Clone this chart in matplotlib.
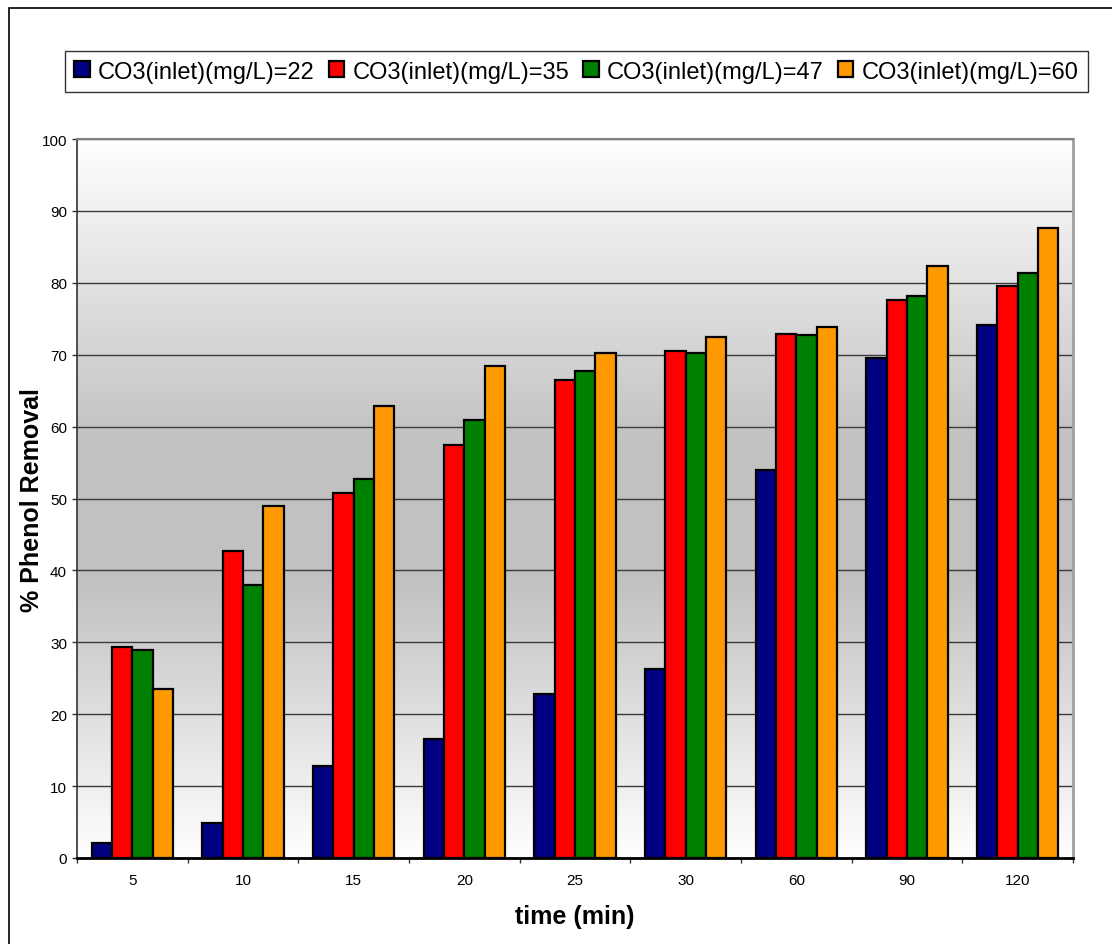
import numpy as np
import matplotlib
matplotlib.use("Agg")
import matplotlib.pyplot as plt
from matplotlib.patches import Rectangle

plt.rcParams['font.family'] = ['Liberation Sans', 'DejaVu Sans']

# Contact time categories (min)
times = ["5", "10", "15", "20", "25", "30", "60", "90", "120"]

# % phenol removal for each inlet carbonate concentration
series_labels = [
    "CO3(inlet)(mg/L)=22",
    "CO3(inlet)(mg/L)=35",
    "CO3(inlet)(mg/L)=47",
    "CO3(inlet)(mg/L)=60",
]
removal_22 = [2.1, 4.9, 12.8, 16.5, 22.8, 26.3, 54.0, 69.5, 74.1]
removal_35 = [29.4, 42.7, 50.8, 57.5, 66.5, 70.5, 72.9, 77.6, 79.5]
removal_47 = [28.9, 37.9, 52.7, 60.9, 67.8, 70.3, 72.7, 78.1, 81.3]
removal_60 = [23.5, 48.9, 62.9, 68.4, 70.3, 72.4, 73.8, 82.4, 87.6]

series_values = [removal_22, removal_35, removal_47, removal_60]
series_colors = ["#000080", "#FF0000", "#008000", "#FF9900"]

y_ticks = list(range(0, 101, 10))

W, H = 1112, 945
fig = plt.figure(figsize=(W / 100, H / 100), dpi=100)
fig.patch.set_facecolor("white")

# outer chart border (left and top edges visible)
fig.add_artist(Rectangle((9 / W, -0.5), 2.0, 1 - 9 / H + 0.5,
                         transform=fig.transFigure, fill=False,
                         edgecolor="black", linewidth=1.2))

ax = fig.add_axes([77 / W, 1 - 859 / H, (1073 - 77) / W, (859 - 140) / H])

n = len(times)
x = np.arange(n)

# plot-area background: white at top and bottom, grey band in the middle
yy = np.linspace(0, 100, 400)
shade = np.interp(yy, [0, 38, 58, 100], [1.0, 0.76, 0.76, 1.0])
grad = np.dstack([shade, shade, shade]).reshape(-1, 1, 3)
ax.imshow(grad, extent=[-0.5, n - 0.5, 0, 100], origin="lower",
          aspect="auto", zorder=0, interpolation="bilinear")

bar_w = 0.184
offsets = (np.arange(4) - 1.5) * bar_w
for vals, off, col, lab in zip(series_values, offsets, series_colors, series_labels):
    ax.bar(x + off, vals, width=bar_w, color=col, edgecolor="black",
           linewidth=1.6, label=lab, zorder=3)

ax.set_xlim(-0.5, n - 0.5)
ax.set_ylim(0, 100)

# grid lines
ax.set_yticks(y_ticks)
ax.yaxis.grid(True, color="#3a3a3a", linewidth=1.0, zorder=1)
ax.set_axisbelow(True)

# category boundary ticks and centred labels
ax.set_xticks(np.arange(n + 1) - 0.5)
ax.set_xticklabels([])
ax.set_xticks(x, minor=True)
ax.set_xticklabels(times, minor=True)
ax.tick_params(axis="x", which="major", direction="out", length=3.6,
               width=1, color="#333333")
ax.tick_params(axis="x", which="minor", length=0, pad=11, labelsize=11)
ax.tick_params(axis="y", direction="out", length=3.6, width=1,
               color="#333333", pad=3.6, labelsize=11)

ax.spines["left"].set_color("#333333")
ax.spines["left"].set_linewidth(1.2)
ax.spines["bottom"].set_color("black")
ax.spines["bottom"].set_linewidth(2.0)
ax.spines["top"].set_color("#808080")
ax.spines["top"].set_linewidth(1.5)
ax.spines["right"].set_color("#a0a0a0")
ax.spines["right"].set_linewidth(2.0)

ax.set_xlabel("time (min)", fontsize=18, fontweight="bold")
ax.xaxis.set_label_coords((575 - 77) / (1073 - 77), -(917 - 859) / (859 - 140))
ax.xaxis.label.set_verticalalignment("center")
ax.set_ylabel("% Phenol Removal", fontsize=18, fontweight="bold")
ax.yaxis.set_label_coords(-(77 - 32) / (1073 - 77), (859 - 500) / (859 - 140))
ax.yaxis.label.set_verticalalignment("center")

leg = fig.legend(loc="center", bbox_to_anchor=((66 + 1087) / 2 / W, 1 - 72.5 / H),
                 ncol=4, fontsize=17, frameon=True, fancybox=False,
                 handlelength=0.65, handleheight=0.65, handletextpad=0.35,
                 columnspacing=0.6, borderpad=0.4, borderaxespad=0)
leg.get_frame().set_edgecolor("black")
leg.get_frame().set_linewidth(1.0)

fig.savefig("out.png", dpi=100)
